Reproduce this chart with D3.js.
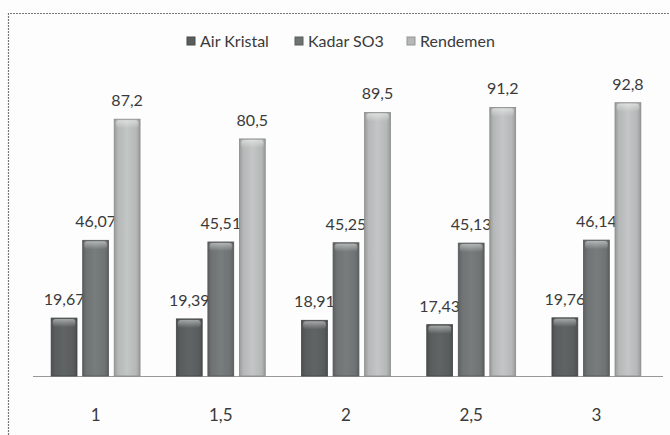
<!DOCTYPE html>
<html>
<head>
<meta charset="utf-8">
<script src="https://cdn.jsdelivr.net/npm/d3@7"></script>
<style>
  body { margin: 0; background: #fdfdfd; }
  text { font-family: Lato, "Open Sans", sans-serif; fill: #3a3a3a; }
</style>
</head>
<body>
<div id="container"></div>
<script>
const categories = ["1", "1,5", "2", "2,5", "3"]
const seriesNames = ["Air Kristal", "Kadar SO3", "Rendemen"]
const airKristal = [19.67, 19.39, 18.91, 17.43, 19.76]
const kadarSO3 = [46.07, 45.51, 45.25, 45.13, 46.14]
const rendemen = [87.2, 80.5, 89.5, 91.2, 92.8]
const seriesValues = [airKristal, kadarSO3, rendemen]

const width = 670, height = 435
const colors = ["#595d5d", "#6f7373", "#b6b8b8"]

const svg = d3.select('#container')
    .append('svg').attr('width', width).attr('height', height)

// frame (dotted, top and left only visible in scan)
svg.append('path')
    .attr('d', 'M8.5,435 L8.5,13.5 L670,13.5')
    .attr('fill', 'none')
    .attr('stroke', '#777')
    .attr('stroke-width', 1.2)
    .attr('stroke-dasharray', '2 1')

const baseline = 376

const x0 = d3.scaleBand().domain(categories).range([33, 659]).paddingInner(0.29).paddingOuter(0.145)
const x1 = d3.scaleBand().domain(seriesNames).range([0, x0.bandwidth()]).paddingInner(0.18)
const y = d3.scaleLinear().domain([0, 100]).range([baseline, baseline - 294.5])

// gradients per series
const defs = svg.append('defs')
colors.forEach((c, i) => {
    const g = defs.append('linearGradient').attr('id', 'g' + i)
        .attr('x1', 0).attr('x2', 1).attr('y1', 0).attr('y2', 0)
    g.append('stop').attr('offset', '0%').attr('stop-color', d3.color(c).darker(0.5))
    g.append('stop').attr('offset', '15%').attr('stop-color', c)
    g.append('stop').attr('offset', '50%').attr('stop-color', d3.color(c).brighter(0.2))
    g.append('stop').attr('offset', '85%').attr('stop-color', c)
    g.append('stop').attr('offset', '100%').attr('stop-color', d3.color(c).darker(0.5))
})
const cap = defs.append('linearGradient').attr('id', 'cap')
    .attr('x1', 0).attr('x2', 0).attr('y1', 0).attr('y2', 1)
cap.append('stop').attr('offset', '0%').attr('stop-color', '#fff').attr('stop-opacity', 0.45)
cap.append('stop').attr('offset', '100%').attr('stop-color', '#fff').attr('stop-opacity', 0)

// axis line
svg.append('line')
    .attr('x1', 33).attr('x2', 663)
    .attr('y1', baseline + 0.5).attr('y2', baseline + 0.5)
    .attr('stroke', '#999').attr('stroke-width', 1.2)

const groups = svg.selectAll('.grp')
    .data(categories)
    .join('g')
    .attr('class', 'grp')
    .attr('transform', d => 'translate(' + x0(d) + ',0)')

groups.each(function(cat, ci) {
    const g = d3.select(this)
    seriesNames.forEach((s, si) => {
        const v = seriesValues[si][ci]
        const bx = x1(s), bw = x1.bandwidth()
        g.append('rect')
            .attr('x', bx).attr('y', y(v))
            .attr('width', bw).attr('height', baseline - y(v))
            .attr('fill', 'url(#g' + si + ')')
            .attr('stroke', d3.color(colors[si]).darker(0.8))
            .attr('stroke-width', 0.8)
        // top highlight cap
        g.append('rect')
            .attr('x', bx + 1.5).attr('y', y(v) + 1)
            .attr('width', bw - 3).attr('height', 8)
            .attr('rx', 3)
            .attr('fill', 'url(#cap)')
        g.append('text')
            .attr('x', bx + bw / 2).attr('y', y(v) - 13)
            .attr('text-anchor', 'middle')
            .attr('font-size', 16)
            .text(String(v).replace('.', ','))
    })
})

// category labels
svg.selectAll('.cat')
    .data(categories)
    .join('text')
    .attr('class', 'cat')
    .attr('x', d => x0(d) + x0.bandwidth() / 2)
    .attr('y', 421)
    .attr('text-anchor', 'middle')
    .attr('font-size', 17)
    .text(d => d)

// legend
const legendX = [187, 295, 407]
const legend = svg.selectAll('.leg')
    .data(seriesNames)
    .join('g')
    .attr('class', 'leg')
    .attr('transform', (d, i) => 'translate(' + legendX[i] + ',37)')
legend.append('rect')
    .attr('width', 8).attr('height', 8)
    .attr('fill', (d, i) => colors[i])
    .attr('stroke', (d, i) => d3.color(colors[i]).darker(0.6))
legend.append('text')
    .attr('x', 13).attr('y', 9.5)
    .attr('font-size', 16)
    .text(d => d)
</script>
</body>
</html>
